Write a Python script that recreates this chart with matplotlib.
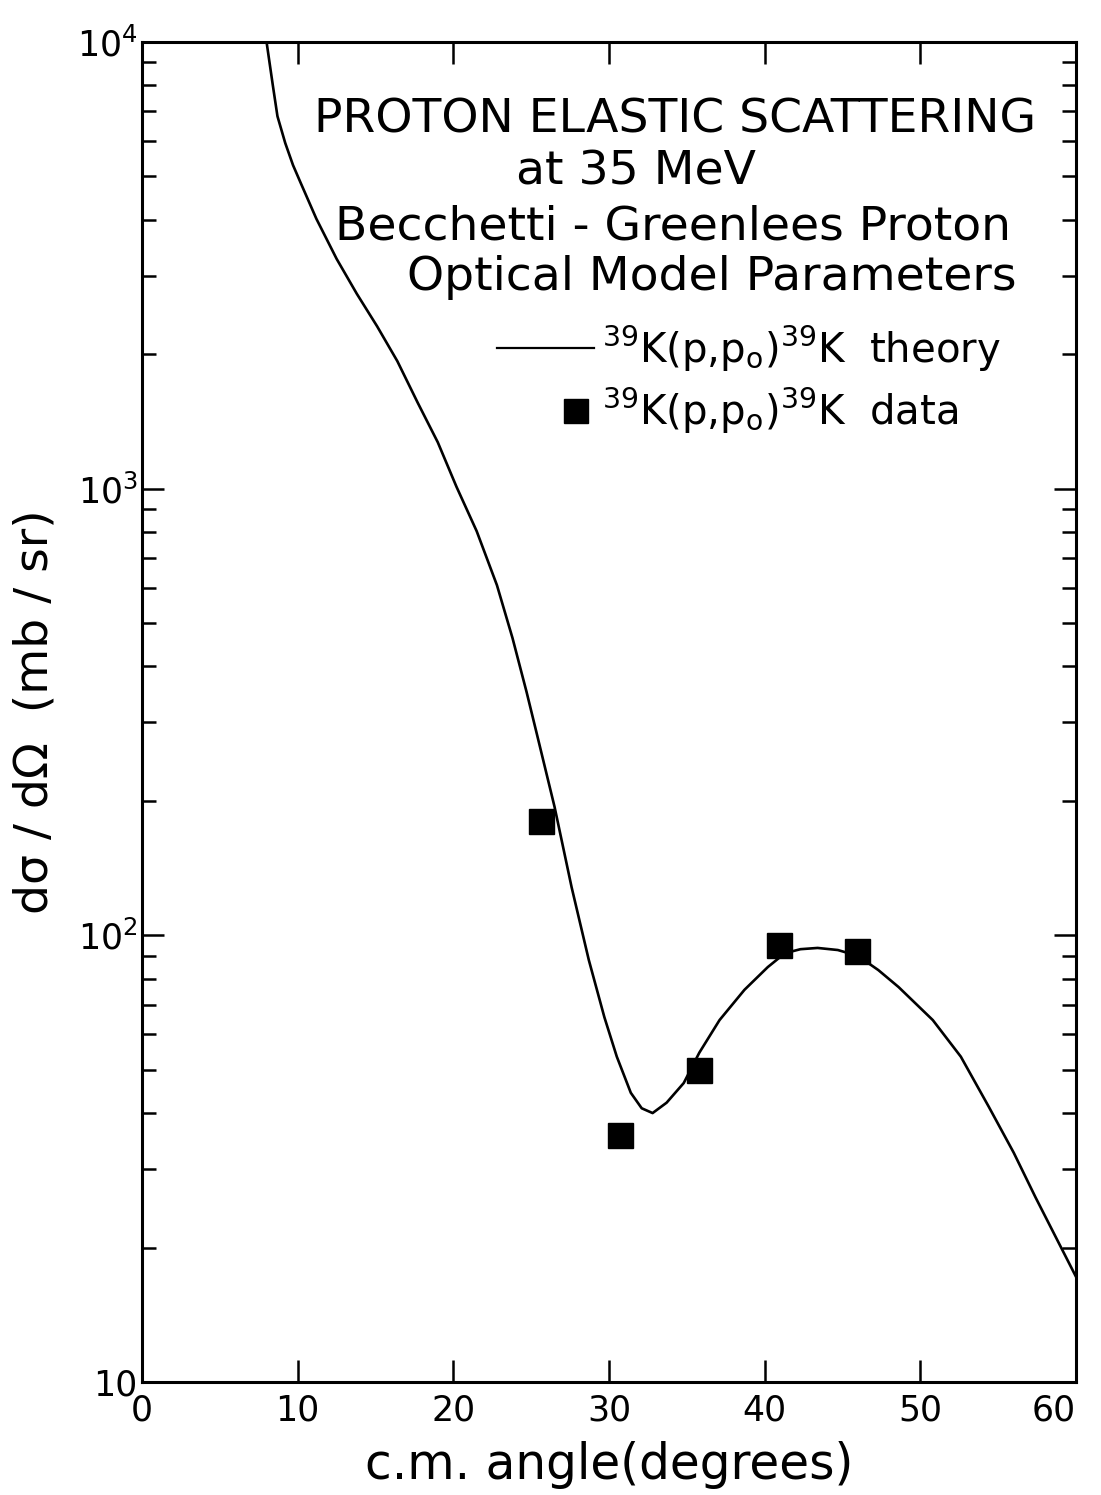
import numpy as np
import matplotlib
matplotlib.use("Agg")
import matplotlib.pyplot as plt
from matplotlib.lines import Line2D
from matplotlib.legend_handler import HandlerBase

plt.rcParams['font.family'] = ['DejaVu Sans']
plt.rcParams['mathtext.default'] = 'regular'

# optical model curve, 39K(p,p0) at 35 MeV
theory_angle = [8.0, 8.4, 8.7, 9.2, 9.7, 10.2, 11.2, 12.5, 13.8, 15.1, 16.4, 17.7, 19.0,
                20.2, 21.5, 22.8, 23.8, 24.7, 25.4, 26.5, 27.6, 28.7, 29.7, 30.5,
                31.4, 32.1, 32.8, 33.7, 34.8, 35.8, 37.1, 38.7, 40.2, 41.3, 42.3,
                43.4, 44.7, 46.0, 47.3, 48.6, 50.8, 52.6, 54.4, 56.0, 57.4, 60.0]
theory_xs = [10000, 8010, 6820, 5940, 5300, 4830, 4020, 3270, 2730, 2310, 1930, 1560, 1270,
             1010, 803, 608, 463, 351, 279, 194, 128, 88.1, 65.6, 53.5,
             44.4, 41.0, 40.0, 42.2, 46.7, 54.6, 64.6, 75.5, 84.9, 91.2, 93.1,
             93.7, 92.7, 89.9, 83.6, 76.6, 64.6, 53.5, 41.3, 32.6, 25.9, 17.2]

# measured points
data_angle = [25.6, 30.7, 35.8, 40.9, 45.9]
data_xs = [180, 35.7, 49.9, 95, 92.2]

xticks = [0, 10, 20, 30, 40, 50, 60]
yticks = [10, 100, 1000, 10000]
ytick_labels = ["10", "$10^2$", "$10^3$", "$10^4$"]

title_lines = ["PROTON ELASTIC SCATTERING", "at 35 MeV",
               "Becchetti - Greenlees Proton", "Optical Model Parameters"]


class MarkerAtRight(HandlerBase):
    # single square sitting at the right end of the handle box
    def create_artists(self, legend, orig_handle, xdescent, ydescent,
                       width, height, fontsize, trans):
        m = Line2D([width - xdescent - 13], [height / 2 - ydescent], ls='none',
                   marker='s', ms=orig_handle.get_markersize(), color='black',
                   transform=trans)
        return [m]


fig = plt.figure(figsize=(11.01, 14.95), dpi=100)
ax = fig.add_axes([0.1290, 0.0756, 0.8483, 0.8963])

ax.plot(theory_angle, theory_xs, color='black', lw=1.9, solid_joinstyle='round')
ax.plot(data_angle, data_xs, ls='none', marker='s', ms=18, color='black')

ax.set_yscale('log')
ax.set_xlim(0, 60)
ax.set_ylim(10, 10000)
ax.set_xticks(xticks)
ax.set_xticklabels([str(t) for t in xticks])
ax.set_yticks(yticks)
ax.set_yticklabels(ytick_labels)
ax.set_xticks([], minor=True)

for s in ax.spines.values():
    s.set_linewidth(2.2)
ax.tick_params(which='both', direction='in', top=True, right=True, width=1.8)
ax.tick_params(which='major', length=16, labelsize=25)
ax.tick_params(which='minor', length=10)
ax.tick_params(axis='x', pad=8)
ax.tick_params(axis='y', pad=3)
ax.get_xticklabels()[-1].set_ha('right')

ax.set_xlabel("c.m. angle(degrees)", fontsize=35, labelpad=10)
ax.set_ylabel("dσ / dΩ  (mb / sr)", fontsize=34, labelpad=14)

ys = [0.9418, 0.9030, 0.8619, 0.8239]
xs = [0.5707, 0.5289, 0.5685, 0.6103]
for txt, tx, ty in zip(title_lines, xs, ys):
    ax.text(tx, ty, txt, transform=ax.transAxes, ha='center', va='center', fontsize=34)

h_theory = Line2D([], [], color='black', lw=1.6)
h_data = Line2D([], [], ls='none', marker='s', ms=17, color='black')
leg = ax.legend([h_theory, h_data],
                [r"$^{39}$K(p,p$_{o}$)$^{39}$K  theory", r"$^{39}$K(p,p$_{o}$)$^{39}$K  data"],
                loc='upper left', bbox_to_anchor=(0.380, 0.790), frameon=False,
                fontsize=29, handlelength=2.4, handletextpad=0.2, borderpad=0,
                borderaxespad=0, labelspacing=0.3,
                handler_map={h_data: MarkerAtRight()})

fig.savefig("out.png", dpi=100)
